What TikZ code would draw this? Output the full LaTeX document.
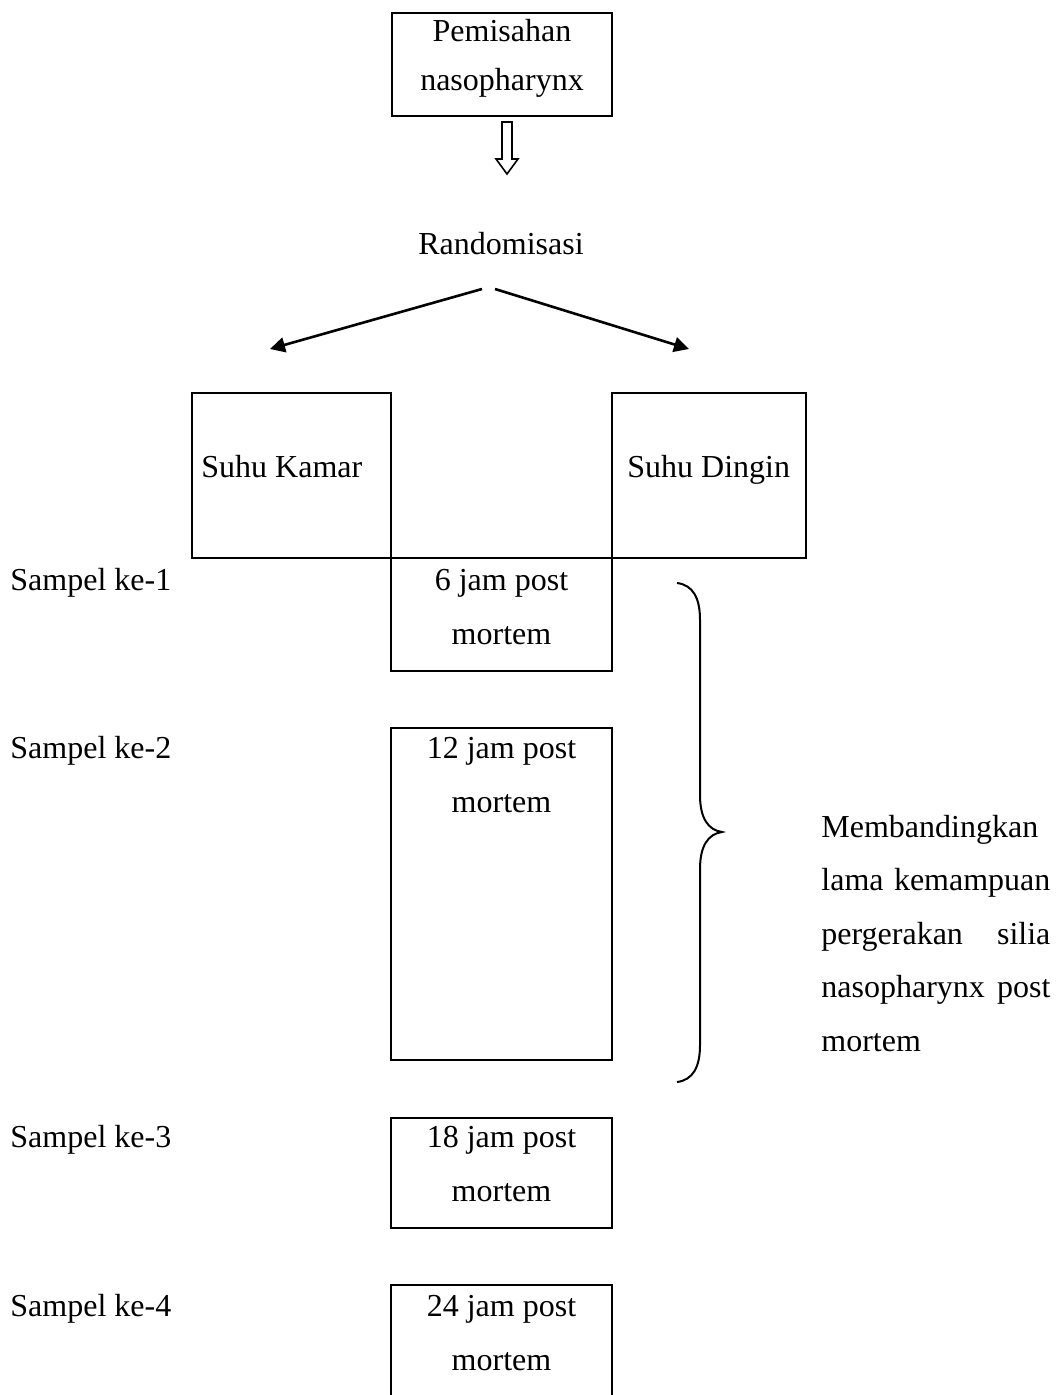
\documentclass[tikz,border=0pt]{standalone}
\usepackage{fontspec}
\setmainfont{Liberation Serif}
\usetikzlibrary{arrows.meta}
\tikzset{
  box/.style={draw, line width=1pt, inner sep=0pt, rectangle},
  txt/.style={anchor=base, inner sep=0pt, font=\fontsize{16}{27}\selectfont},
  txtw/.style={anchor=base west, inner sep=0pt, font=\fontsize{16}{27}\selectfont},
  arr/.style={line width=1.3pt, -{Triangle[length=7.5pt,width=7.5pt]}},
}
\begin{document}
\begin{tikzpicture}[x=0.5pt,y=-0.5pt]
\useasboundingbox (0,0) rectangle (1058,1395);
\clip (0,0) rectangle (1058,1395);
% boxes
\node[box, minimum width=110pt, minimum height=51.5pt] (top) at (502,64.5) {};
\node[box, minimum width=99.5pt, minimum height=82.5pt] (kamar) at (291.5,475.5) {};
\node[box, minimum width=97pt, minimum height=82.5pt] (dingin) at (709,475.5) {};
\node[box, minimum width=110.5pt, minimum height=56.5pt] (b6) at (501.5,614.5) {};
\node[box, minimum width=110.5pt, minimum height=166pt] (b12) at (501.5,894) {};
\node[box, minimum width=110.5pt, minimum height=55pt] (b18) at (501.5,1173) {};
\node[box, minimum width=110.5pt, minimum height=67.5pt] (b24) at (501.5,1352.5) {};
% texts
\node[txt] (t1a) at (502,42) {Pemisahan};
\node[txt] (t1b) at (502,91) {nasopharynx};
\node[txt] (rand) at (501,255) {Randomisasi};
\node[txtw] (tk) at (201,477) {Suhu Kamar};
\node[txtw] (td) at (627,477) {Suhu Dingin};
\node[txtw] (s1) at (10,590) {Sampel ke-1};
\node[txtw] (s2) at (10,758) {Sampel ke-2};
\node[txtw] (s3) at (10,1147) {Sampel ke-3};
\node[txtw] (s4) at (10,1316) {Sampel ke-4};
\node[txt] (j6a) at (501.5,590) {6 jam post};
\node[txt] (j6b) at (501.5,644) {mortem};
\node[txt] (j12a) at (501.5,758) {12 jam post};
\node[txt] (j12b) at (501.5,812) {mortem};
\node[txt] (j18a) at (501.5,1147) {18 jam post};
\node[txt] (j18b) at (501.5,1201) {mortem};
\node[txt] (j24a) at (501.5,1316) {24 jam post};
\node[txt] (j24b) at (501.5,1370) {mortem};
\node[txtw] (r1) at (821,837) {Membandingkan};
\node[txtw] (r2) at (821,890) {\hbox to 114.5pt{lama\hfill kemampuan}};
\node[txtw] (r3) at (821,944) {\hbox to 114.5pt{pergerakan\hfill silia}};
\node[txtw] (r4) at (821,997) {\hbox to 114.5pt{nasopharynx\hfill post}};
\node[txtw] (r5) at (821,1051) {mortem};
% hollow arrow
\draw[line width=0.8pt, line join=miter]
  (502,122) -- (512,122) -- (512,159) -- (518,159) -- (507,174)
  -- (496,159) -- (502,159) -- cycle;
% split arrows
\coordinate (rl) at (482,289);
\coordinate (rr) at (495,289);
\coordinate (al) at (270,349);
\coordinate (ar) at (689,349);
\draw[arr] (rl) -- (al);
\draw[arr] (rr) -- (ar);
% brace
\draw[line width=1pt]
  (677,583) .. controls (693,585) and (700,598) .. (700,620)
  -- (700,795) .. controls (700,818) and (708,830) .. (722,832)
  .. controls (708,834) and (700,846) .. (700,869)
  -- (700,1045) .. controls (700,1067) and (693,1080) .. (677,1082);
\end{tikzpicture}
\end{document}
